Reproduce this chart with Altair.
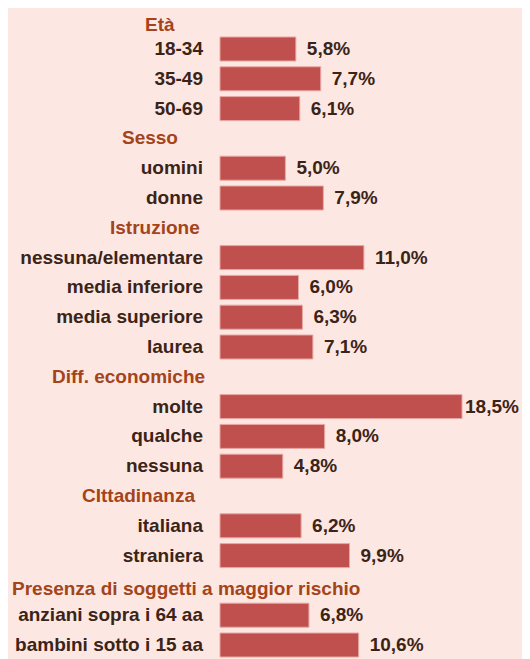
import altair as alt
import pandas as pd

groups = ["Età", "Sesso", "Istruzione", "Diff. economiche", "CIttadinanza",
          "Presenza di soggetti a maggior rischio"]
categories = [
    ["18-34", "35-49", "50-69"],
    ["uomini", "donne"],
    ["nessuna/elementare", "media inferiore", "media superiore", "laurea"],
    ["molte", "qualche", "nessuna"],
    ["italiana", "straniera"],
    ["anziani sopra i 64 aa", "bambini sotto i 15 aa"],
]
values = [
    [5.8, 7.7, 6.1],
    [5.0, 7.9],
    [11.0, 6.0, 6.3, 7.1],
    [18.5, 8.0, 4.8],
    [6.2, 9.9],
    [6.8, 10.6],
]

# styling for the group headers (left start in px, vertical nudge in px)
header_style = {
    "Età": (137, 6),
    "Sesso": (114, 0),
    "Istruzione": (102, 0),
    "Diff. economiche": (44, 0),
    "CIttadinanza": (74, 0),
    "Presenza di soggetti a maggior rischio": (4, 4),
}

rows = []
headers = []
r = 0
for g, cats, vals in zip(groups, categories, values):
    headers.append({"row": r, "label": g})
    r += 1
    for c, v in zip(cats, vals):
        rows.append({"row": r, "label": c, "value": v,
                     "txt": f"{v:.1f}".replace(".", ",") + "%"})
        r += 1

df = pd.DataFrame(rows)
hdf = pd.DataFrame(headers)

FONT = "Liberation Sans"
TXT = "#3B2416"
HDR = "#A3441A"
BAR = "#C0504D"

xs = alt.Scale(domain=[0, 18.5], range=[212, 454])
ys = alt.Scale(domain=[1, 21], range=[36, 642])

base = alt.Chart(df)

bars = base.mark_bar(orient="horizontal", size=24, color=BAR,
                     stroke="#E8A6A3", strokeWidth=1).encode(
    x=alt.X("value:Q", scale=xs, axis=None),
    x2=alt.datum(0),
    y=alt.Y("row:Q", scale=ys, axis=None),
)

cat_labels = base.mark_text(align="right", baseline="middle", font=FONT,
                            fontWeight="bold", fontSize=19, color=TXT).encode(
    x=alt.value(195),
    y=alt.Y("row:Q", scale=ys, axis=None),
    text="label:N",
)

val_small = base.transform_filter("datum.value < 15").mark_text(
    align="left", baseline="middle", dx=11, font=FONT,
    fontWeight="bold", fontSize=19, color=TXT).encode(
    x=alt.X("value:Q", scale=xs, axis=None),
    y=alt.Y("row:Q", scale=ys, axis=None),
    text="txt:N",
)
val_big = base.transform_filter("datum.value >= 15").mark_text(
    align="left", baseline="middle", dx=3, font=FONT,
    fontWeight="bold", fontSize=19, color=TXT).encode(
    x=alt.X("value:Q", scale=xs, axis=None),
    y=alt.Y("row:Q", scale=ys, axis=None),
    text="txt:N",
)

layers = [bars, cat_labels, val_small, val_big]
for g in groups:
    hx, hdy = header_style[g]
    layers.append(
        alt.Chart(hdf).transform_filter(alt.datum.label == g).mark_text(
            align="left", baseline="middle", dy=hdy, font=FONT,
            fontWeight="bold", fontSize=19, color=HDR).encode(
            x=alt.value(hx),
            y=alt.Y("row:Q", scale=ys, axis=None),
            text="label:N",
        )
    )

chart = alt.layer(*layers).properties(
    width=514, height=680, autosize="none", padding=0,
    background="#FDE7E3",
).configure_view(stroke=None)

chart.save("out.html", embed_options={"renderer": "svg", "actions": False})
